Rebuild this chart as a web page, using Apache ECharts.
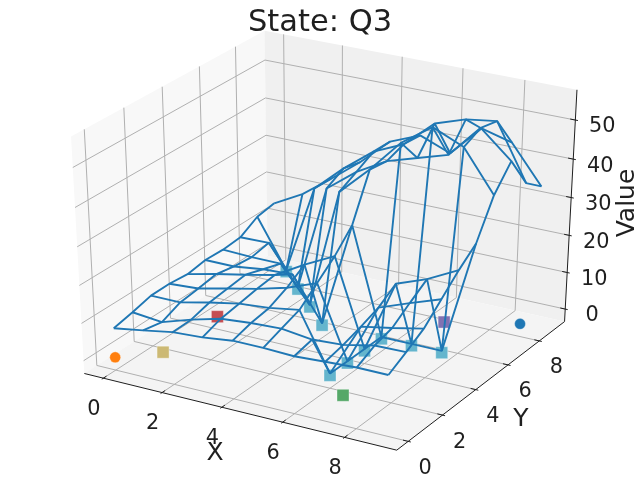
<!DOCTYPE html>
<html><head><meta charset="utf-8"><style>html,body{margin:0;padding:0;background:#fff}#c{width:640px;height:480px}</style></head>
<body><div id="c"></div>
<script src="https://cdn.jsdelivr.net/npm/echarts@6/dist/echarts.min.js"></script>
<script>
const titleText = 'State: Q3';
const xTicks = [0, 2, 4, 6, 8];
const yTicks = [0, 2, 4, 6, 8];
const zTicks = [0, 10, 20, 30, 40, 50];
const xs = [0, 1, 2, 3, 4, 5, 6, 7, 8, 9];
const ys = [0, 1, 2, 3, 4, 5, 6, 7, 8, 9];
const z0 = [7.8, 9.1, 10.5, 11, 12, 12, 11.7, 12.2, 12.6, 12.6];
const z1 = [8.9, 8.1, 10.6, 12.7, 13.4, 13.8, 12.8, 13.3, 15, 15.2];
const z2 = [10.2, 10.2, 12, 13.5, 14.2, 15.5, 0.5, 14.8, 16.3, 18];
const z3 = [10.3, 10.8, 12.6, 14.3, 16.4, 19.4, 0.5, 16.6, 19.6, 22.4];
const z4 = [9.8, 11.6, 13.2, 14.9, 19.4, 23.4, 0.5, 19.7, 22.7, 26.8];
const z5 = [10.6, 10.6, 11.6, 12, 0.5, 28.5, 0.5, 0.5, 0.5, 30.6];
const z6 = [10.4, 10.1, 10.1, 0.5, 32.6, 40, 48.4, 53.9, 50.5, 40];
const z7 = [10.8, 11, 0.5, 29, 35, 39.4, 41.8, 44.2, 52.6, 45.8];
const z8 = [13.5, 0.5, 24.5, 31.5, 37.5, 41, 47.9, 50.5, 51.6, 37.4];
const z9 = [14.3, 18.5, 24.3, 30.4, 37.4, 40.6, 37.5, 45.5, 43.4, 33.7];
const zRows = [z0, z1, z2, z3, z4, z5, z6, z7, z8, z9];
const specialPoints = [[1,8],[2,7],[3,6],[4,5],[6,2],[6,3],[6,4],[6,5],[7,5],[8,5]];
const redPoints = [[1,4]];
const yellowPoints = [[1,1]];
const greenPoints = [[7,1]];
const purplePoints = [[7,7]];
const orangePoints = [[0,0]];
const bluePoints = [[9,8]];

// mplot3d camera (elev 30, azim -60, dist 10)
const XL = [-0.45, 9.45], YL = [-0.45, 9.45], ZL = [-2.24, 56.4];
const A = 0.8660254, B = 0.4330127;
function P(x, y, z) {
  const dx = (x - XL[0]) / (XL[1] - XL[0]) - .5, dy = (y - YL[0]) / (YL[1] - YL[0]) - .5, dz = (z - ZL[0]) / (ZL[1] - ZL[0]) - .5;
  const xv = A * dx + .5 * dy, yv = -.25 * dx + B * dy + A * dz, zv = -10 + B * dx - .75 * dy + .5 * dz;
  return [328.3 + 3462 * xv / -zv, 233 - 2596 * yv / -zv];
}
const pad = r => (r[1] - r[0]) / 48;
const xlo = XL[0] - pad(XL), xhi = XL[1] + pad(XL), ylo = YL[0] - pad(YL), yhi = YL[1] + pad(YL), zlo = ZL[0] - pad(ZL), zhi = ZL[1] + pad(ZL);
const tick = r => (r[1] - r[0]) / 12;

const panes = [
  { pts: [[xlo,ylo,zlo],[xlo,yhi,zlo],[xlo,yhi,zhi],[xlo,ylo,zhi]], fill: '#f8f8f8' },
  { pts: [[xlo,yhi,zlo],[xhi,yhi,zlo],[xhi,yhi,zhi],[xlo,yhi,zhi]], fill: '#f0f0f0' },
  { pts: [[xlo,ylo,zlo],[xhi,ylo,zlo],[xhi,yhi,zlo],[xlo,yhi,zlo]], fill: '#f4f4f4' }
];
const gridLines = [];
xTicks.forEach(t => gridLines.push([[t,ylo,zlo],[t,yhi,zlo],[t,yhi,zhi]]));
yTicks.forEach(t => gridLines.push([[xhi,t,zlo],[xlo,t,zlo],[xlo,t,zhi]]));
zTicks.forEach(t => gridLines.push([[xlo,ylo,t],[xlo,yhi,t],[xhi,yhi,t]]));
const axisLines = [
  [[xlo,ylo,zlo],[xhi,ylo,zlo]], [[xhi,ylo,zlo],[xhi,yhi,zlo]], [[xhi,yhi,zlo],[xhi,yhi,zhi]]
];
xTicks.forEach(t => axisLines.push([[t,ylo-.1*tick(YL),zlo],[t,ylo+.2*tick(YL),zlo]]));
yTicks.forEach(t => axisLines.push([[xhi+.1*tick(XL),t,zlo],[xhi-.2*tick(XL),t,zlo]]));
zTicks.forEach(t => axisLines.push([[xhi+.1*tick(XL),yhi,t],[xhi-.2*tick(XL),yhi,t]]));

const F20 = '20.83px "DejaVu Sans"', F25 = '25px "DejaVu Sans"';
const texts = [];
xTicks.forEach(t => { const p = P(t, ylo, zlo); texts.push({ s: String(t), x: p[0] - 9.5, y: p[1] + 31, f: F20 }); });
yTicks.forEach(t => { const p = P(xhi, t, zlo); texts.push({ s: String(t), x: p[0] + 17, y: p[1] + 27, f: F20 }); });
zTicks.forEach(t => { const p = P(xhi, yhi, t); texts.push({ s: String(t), x: p[0] + 27, y: p[1] + 7, f: F20 }); });
texts.push({ s: 'X', x: 215, y: 453, f: F25 }, { s: 'Y', x: 521, y: 419, f: F25 }, { s: 'Value', x: 627, y: 203, f: F25, r: Math.PI / 2 });

const ink = '#1f1f1f';
function polySeries(name, items, z, build) {
  return { type: 'custom', name, silent: true, z, clip: false, animation: false, coordinateSystem: 'cartesian2d',
    data: items.map((_, i) => [i]), encode: { x: 0, y: 0 },
    renderItem: (p, api) => build(items[p.dataIndex], api) };
}
const toCoords = (pts, api) => pts.map(q => api.coord(P(q[0], q[1], q[2])));
const series = [
  polySeries('panes', panes, 1, (d, api) => ({ type: 'polygon', shape: { points: toCoords(d.pts, api) }, style: { fill: d.fill } })),
  polySeries('grid', gridLines, 2, (d, api) => ({ type: 'polyline', shape: { points: toCoords(d, api) }, style: { fill: 'none', stroke: '#b0b0b0', lineWidth: 1 } })),
  polySeries('axes', axisLines, 3, (d, api) => ({ type: 'polyline', shape: { points: toCoords(d, api) }, style: { fill: 'none', stroke: ink, lineWidth: 1 } })),
  polySeries('labels', texts, 9, (d, api) => {
    const c = api.coord([d.x, d.y]);
    return { type: 'text', x: c[0], y: c[1], rotation: d.r || 0, style: { text: d.s, font: d.f, fill: ink, align: 'center', verticalAlign: 'middle' } };
  })
];
function markers(name, pts, symbol, size, color) {
  series.push({ type: 'scatter', name, z: 4, silent: true, animation: false, clip: false, symbol, symbolSize: size,
    itemStyle: { color, opacity: 1, borderColor: 'rgba(255,255,255,.35)', borderWidth: 1 },
    data: pts.map(q => P(q[0], q[1], 0)) });
}
markers('special', specialPoints, 'rect', 12, '#64b5cd');
markers('red', redPoints, 'rect', 12, '#c44e52');
markers('yellow', yellowPoints, 'rect', 12, '#ccb974');
markers('green', greenPoints, 'rect', 12, '#55a868');
markers('purple', purplePoints, 'rect', 12, '#8172b2');
markers('orange', orangePoints, 'circle', 11, '#ff7f0e');
markers('blue', bluePoints, 'circle', 11, '#1f77b4');
function wire(name, pts) {
  series.push({ type: 'line', name, z: 5, silent: true, animation: false, clip: false, symbol: 'none', smooth: false,
    lineStyle: { color: '#1f77b4', width: 1.9 }, data: pts });
}
ys.forEach((y, j) => wire('row' + j, xs.map((x, i) => P(x, y, zRows[j][i]))));
xs.forEach((x, i) => wire('col' + i, ys.map((y, j) => P(x, y, zRows[j][i]))));

const chart = echarts.init(document.getElementById('c'), null, { renderer: 'canvas', width: 640, height: 480 });
chart.setOption({
  backgroundColor: '#fff', animation: false,
  title: { text: titleText, left: 'center', top: 3, textStyle: { color: ink, fontFamily: 'DejaVu Sans', fontWeight: 'normal', fontSize: 30.5 } },
  grid: { left: 0, right: 0, top: 0, bottom: 0 },
  xAxis: { type: 'value', min: 0, max: 640, show: false },
  yAxis: { type: 'value', min: 0, max: 480, inverse: true, show: false },
  tooltip: { show: false },
  series
});
</script></body></html>
